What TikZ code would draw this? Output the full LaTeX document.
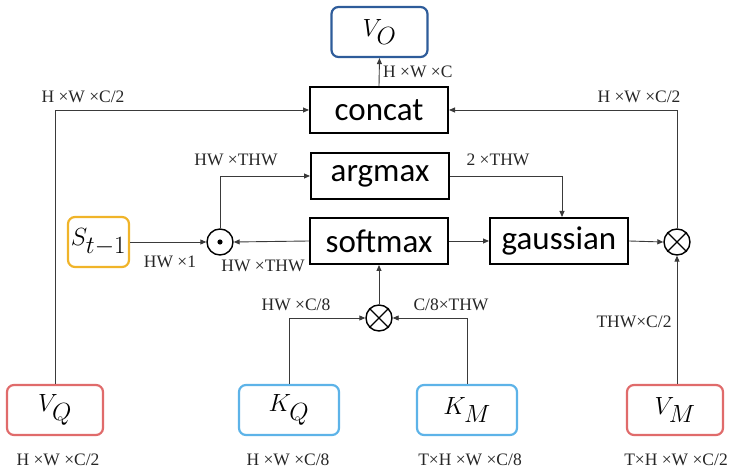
\documentclass[tikz,border=0pt]{standalone}
\usepackage{fontspec}
\setmainfont{Liberation Serif}
\newfontfamily\boxfont{Carlito}
\usetikzlibrary{arrows.meta,calc}
\definecolor{voblue}{HTML}{2E5C9A}
\definecolor{sgold}{HTML}{F0B429}
\definecolor{vred}{HTML}{E06B6B}
\definecolor{kblue}{HTML}{5DB3E8}
\definecolor{lin}{HTML}{3A3A3A}
\begin{document}
\begin{tikzpicture}[x=1pt,y=-1pt,
  opbox/.style={draw=black,line width=2pt,minimum width=138pt,minimum height=46pt,inner sep=0pt,font=\boxfont\fontsize{33}{33}\selectfont},
  varbox/.style={draw,rounded corners=7pt,line width=2.2pt,minimum height=50pt,inner sep=0pt,font=\fontsize{34}{34}\selectfont},
  opcirc/.style={draw=black,circle,line width=1.4pt,minimum size=26pt,inner sep=0pt},
  conn/.style={draw=lin,line width=0.9pt,-{Triangle[length=6pt,width=5pt]}},
  dim/.style={font=\fontsize{17.5}{17.5}\selectfont,inner sep=0pt,text=black!85}
]
\useasboundingbox (0,0) rectangle (745,470);

% boxes
\node[varbox,draw=voblue,minimum width=96pt] (VO) at (379.5,32) {$V_O$};
\node[opbox] (concat) at (379,110) {concat};
\node[opbox] (argmax) at (380,176) {argmax};
\node[opbox] (softmax) at (379,241) {softmax};
\node[opbox] (gauss) at (559,241) {gaussian};
\node[varbox,draw=sgold,minimum width=61pt,font=\fontsize{37}{37}\selectfont] (S) at (98.5,242) {$S_{t-1}$};
\node[opcirc] (odot) at (220,242) {};
\fill (odot.center) circle (2.6pt);
\node[opcirc] (otR) at (677,242) {};
\draw[line width=1.2pt] (otR.north east) -- (otR.south west) (otR.north west) -- (otR.south east);
\node[opcirc] (otB) at (379,318) {};
\draw[line width=1.2pt] (otB.north east) -- (otB.south west) (otB.north west) -- (otB.south east);
\node[varbox,draw=vred,minimum width=96pt] (VQ) at (55,410) {$V_Q$};
\node[varbox,draw=kblue,minimum width=100pt] (KQ) at (289,410) {$K_Q$};
\node[varbox,draw=kblue,minimum width=100pt] (KM) at (467,410) {$K_M$};
\node[varbox,draw=vred,minimum width=96pt] (VM) at (675,410) {$V_M$};

% connectors
\draw[conn] (concat.north) -- (VO.south);
\draw[conn] (VQ.north) |- (concat.west);
\draw[conn] (otR.north) |- (concat.east);
\draw[conn] (odot.north) |- (argmax.west);
\draw[conn] (argmax.east) -| ($(gauss.north)+(3,0)$);
\draw[conn] (S.east) -- (odot.west);
\draw[conn] (softmax.west) -- (odot.east);
\draw[conn] (softmax.east) -- (gauss.west);
\draw[conn] (gauss.east) -- (otR.west);
\draw[conn] (VM.north -| otR.south) -- (otR.south);
\draw[conn] (otB.north) -- (otB.north |- softmax.south);
\draw[conn] (KQ.north) |- (otB.west);
\draw[conn] (KM.north) |- (otB.east);

% dimension labels
\node[dim,anchor=west] (l1) at (383,72) {H ×W ×C};
\node[dim] (l2) at (83,97) {H ×W ×C/2};
\node[dim] (l3) at (639,97) {H ×W ×C/2};
\node[dim] (l4) at (236,160) {HW ×THW};
\node[dim] (l5) at (498,160) {2 ×THW};
\node[dim] (l6) at (170,262) {HW ×1};
\node[dim] (l7) at (263,266) {HW ×THW};
\node[dim] (l8) at (296,305) {HW ×C/8};
\node[dim] (l9) at (451,305) {C/8×THW};
\node[dim] (l10) at (634,322) {THW×C/2};
\node[dim] (b1) at (58,460) {H ×W ×C/2};
\node[dim] (b2) at (288,460) {H ×W ×C/8};
\node[dim] (b3) at (470,460) {T×H ×W ×C/8};
\node[dim] (b4) at (676,460) {T×H ×W ×C/2};
\end{tikzpicture}
\end{document}
